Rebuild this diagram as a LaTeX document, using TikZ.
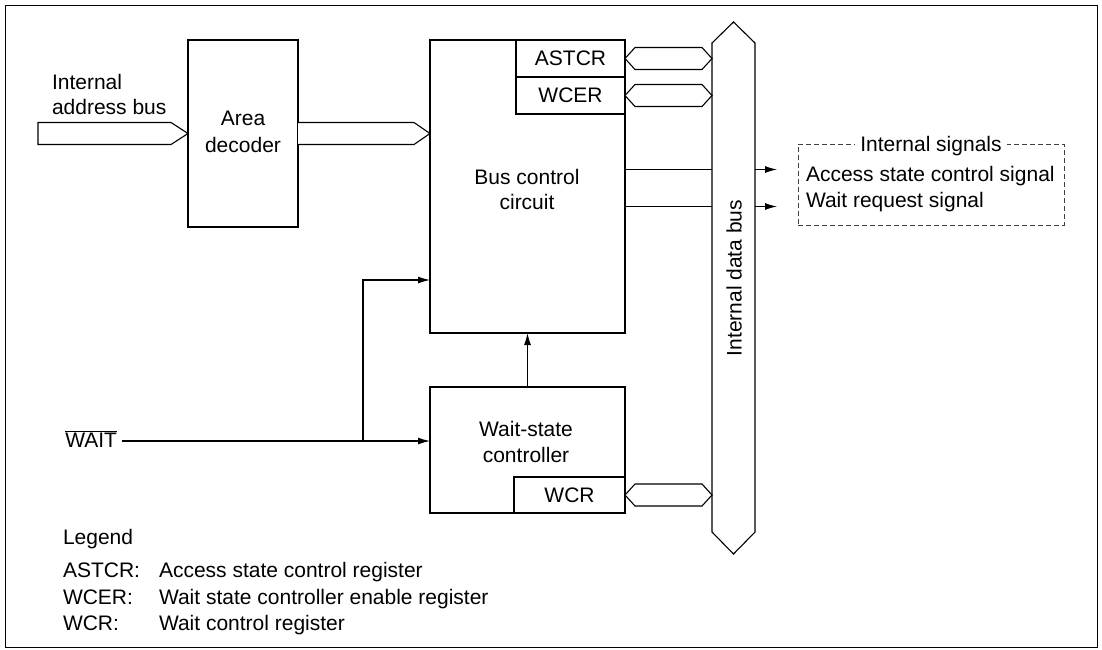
\documentclass[tikz,border=0pt]{standalone}
\usepackage{fontspec}
\setmainfont{Liberation Sans}
\usetikzlibrary{arrows.meta,calc}
\begin{document}
\begin{tikzpicture}[x=1pt,y=-1pt,
  every node/.style={font=\fontsize{21}{26}\selectfont, inner sep=0pt, outer sep=0pt},
  box/.style={draw, line width=1.2pt, rectangle, inner sep=0pt},
  wire/.style={line width=1.1pt},
  arr/.style={wire, -{Latex[length=12pt,width=7pt]}},
  bus/.style={draw, line width=1.1pt, fill=white, line join=miter},
  lbl/.style={anchor=base},
  lft/.style={anchor=base west},
]
\useasboundingbox (0,0) rectangle (1102,649);
\draw[line width=1pt] (5,5) rectangle (1097,647.5);

% blocks
\node[box, minimum width=110pt, minimum height=187pt] (dec) at (243,133.5) {};
\node[box, minimum width=195pt, minimum height=293pt] (bcc) at (527.5,186.5) {};
\node[box, minimum width=109pt, minimum height=37pt] (astcr) at (570.5,58.5) {ASTCR};
\node[box, minimum width=109pt, minimum height=37pt] (wcer) at (570.5,95.5) {WCER};
\node[box, minimum width=195pt, minimum height=126pt] (wsc) at (527.5,450) {};
\node[box, minimum width=111pt, minimum height=36pt] (wcr) at (569.5,495) {WCR};

\node[lbl] (decl1) at (243,125.5) {Area};
\node[lbl] (decl2) at (243,152.5) {decoder};
\node[lbl] (bccl1) at (527,184.5) {Bus control};
\node[lbl] (bccl2) at (527,209.5) {circuit};
\node[lbl] (wscl1) at (526,436.5) {Wait-state};
\node[lbl] (wscl2) at (526,462.5) {controller};

% internal data bus
\node[minimum width=43pt, minimum height=489pt] (dbus) at (733.5,287.5) {};
\draw[bus] (dbus.north west) -- ($(dbus.north)+(0,-21)$) -- (dbus.north east)
  -- (dbus.south east) -- ($(dbus.south)+(0,22)$) -- (dbus.south west) -- cycle;
\node[rotate=90] (dbusl) at (734,278) {Internal data bus};

% address buses
\node[lft] (addr1) at (52,89.5) {Internal};
\node[lft] (addr2) at (52,114.5) {address bus};
\coordinate (ain) at (38,133.5);
\draw[bus] ($(ain)+(0,-11)$) -- ($(dec.west)+(-17,-11)$) -- (dec.west)
  -- ($(dec.west)+(-17,11)$) -- ($(ain)+(0,11)$) -- cycle;
\coordinate (din) at (bcc.west |- dec.east);
\draw[bus] ($(dec.east)+(0,-11)$) -- ($(din)+(-16,-11)$) -- (din)
  -- ($(din)+(-16,11)$) -- ($(dec.east)+(0,11)$);

% register buses
\newcommand\hexbus[2]{\draw[bus] (#1) -- ($(#1)+(10,-11)$) -- ($(#2)+(-10,-11)$) -- (#2)
  -- ($(#2)+(-10,11)$) -- ($(#1)+(10,11)$) -- cycle;}
\coordinate (ha) at (dbus.west |- astcr.east);
\coordinate (hb) at (dbus.west |- wcer.east);
\coordinate (hc) at (dbus.west |- wcr.east);
\hexbus{astcr.east}{ha}
\hexbus{wcer.east}{hb}
\hexbus{wcr.east}{hc}

% internal signals
\coordinate (s1) at (777,169.5);
\coordinate (s2) at (777,206.5);
\draw[wire] (bcc.east |- s1) -- (dbus.west |- s1);
\draw[wire] (bcc.east |- s2) -- (dbus.west |- s2);
\draw[arr] (dbus.east |- s1) -- (s1);
\draw[arr] (dbus.east |- s2) -- (s2);
\node[draw=black!75, line width=0.9pt, dash pattern=on 5pt off 3pt,
  minimum width=266pt, minimum height=81pt] (sig) at (931,184.5) {};
\node[lbl, fill=white, inner xsep=5pt, inner ysep=2pt] (sigt) at (931,151) {Internal signals};
\node[lft] (sig1) at (806,181.5) {Access state control signal};
\node[lft] (sig2) at (806,207.5) {Wait request signal};

% wait
\draw[arr] (wsc.north) -- (bcc.south);
\node[anchor=base east] (wait) at (117,447.5) {$\overline{\hbox{WAIT}}$};
\coordinate (wy) at (363,441);
\draw[arr] ($(wait.east |- wy)+(5,0)$) -- (wsc.west |- wy);
\draw[arr] (wy) -- (wy |- 0,280) -- (bcc.west |- 0,280);

% legend
\node[lft] (leg) at (63,544.5) {Legend};
\node[lft] (leg1) at (63,577.5) {ASTCR:};
\node[lft] (leg1d) at (159,577.5) {Access state control register};
\node[lft] (leg2) at (63,604.5) {WCER:};
\node[lft] (leg2d) at (159,604.5) {Wait state controller enable register};
\node[lft] (leg3) at (63,630.5) {WCR:};
\node[lft] (leg3d) at (159,630.5) {Wait control register};
\end{tikzpicture}
\end{document}
